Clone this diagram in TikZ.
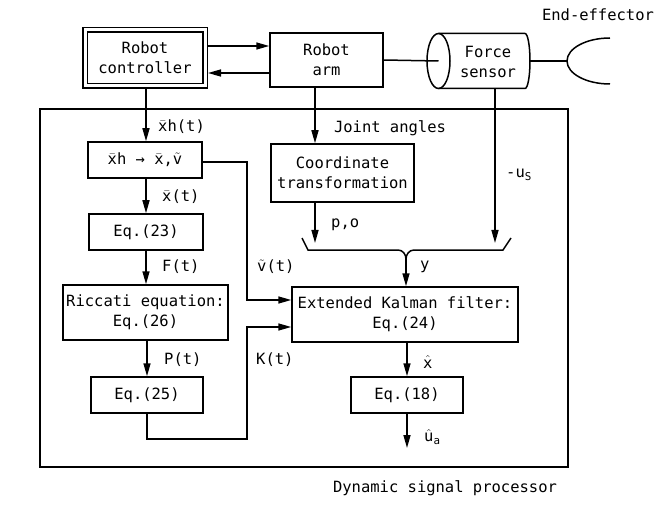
\documentclass[tikz,border=0pt]{standalone}
\usepackage{fontspec}
\setmainfont{DejaVu Sans Mono}
\usetikzlibrary{arrows.meta}
\newcommand\mxbar{$\bar{\hbox{x}}$}
\newcommand\mvtil{$\tilde{\hbox{v}}$}
\newcommand\mxhat{$\hat{\hbox{x}}$}
\newcommand\muhat{$\hat{\hbox{u}}$}
\begin{document}
\begin{tikzpicture}[x=1pt,y=-1pt,
  every node/.style={font=\fontsize{15.5}{20}\selectfont},
  box/.style={draw, line width=1.5pt, inner sep=0pt, align=center},
  lbl/.style={inner sep=0pt, anchor=west},
  arr/.style={-{Triangle[length=13pt,width=7pt]}, line width=1.5pt},
  ln/.style={line width=1.5pt}]
\useasboundingbox (0,0) rectangle (670,516);

% top row
\node[box, double, double distance=3pt, minimum width=120pt, minimum height=56pt, outer sep=3pt] (ctrl) at (145,58) {Robot\\controller};
\node[box, minimum width=113pt, minimum height=54pt] (arm) at (326.5,60) {Robot\\arm};

% force sensor cylinder
\coordinate (fsL) at (438.5,61);
\coordinate (fsR) at (530,61);
\draw[ln] (fsL) ellipse [x radius=11.5pt, y radius=27.5pt];
\draw[ln] (438.5,33.5) -- (525,33.5) arc [start angle=90, end angle=-90, x radius=5pt, y radius=27.5pt] -- (438.5,88.5);
\node (fs) at (488,62) [align=center] {Force\\sensor};
\coordinate (fsB) at (495,88.5);

% end-effector
\coordinate (ee) at (567,61);
\draw[ln] (610,38) arc [start angle=90, end angle=270, x radius=43pt, y radius=23pt];
\node (eelbl) at (598,15) {End-effector};

\draw[ln] (arm.east) -- (fsL);
\draw[ln] (fsR) -- (ee);

\draw[arr] ([yshift=12pt]ctrl.east) -- ([yshift=12pt]ctrl.east -| arm.west);
\draw[arr] ([yshift=-13pt]arm.west) -- ([yshift=-13pt]arm.west -| ctrl.east);

% dynamic signal processor
\node[box, minimum width=528pt, minimum height=358pt] (dsp) at (304,288) {};
\node (dsplbl) at (445,488) {Dynamic signal processor};

% left column
\node[box, minimum width=114pt, minimum height=36pt] (b1) at (145,160) {\mxbar h → \mxbar,\mvtil};
\node[box, minimum width=114pt, minimum height=36pt] (eq23) at (146,232) {Eq.(23)};
\node[box, minimum width=165pt, minimum height=55pt] (ric) at (145.5,312.5) {Riccati equation:\\Eq.(26)};
\node[box, minimum width=112pt, minimum height=36pt] (eq25) at (147,395) {Eq.(25)};

% right column
\node[box, minimum width=143pt, minimum height=58pt] (coord) at (342.5,173) {Coordinate\\transformation};
\node[box, minimum width=226pt, minimum height=55pt] (ekf) at (405,314.5) {Extended Kalman filter:\\Eq.(24)};
\node[box, minimum width=112pt, minimum height=36pt] (eq18) at (407,395) {Eq.(18)};

% left arrows
\draw[arr] (ctrl.south -| 146,0) -- (b1.north -| 146,0);
\node[lbl] (l1) at (158,127) {\mxbar h(t)};
\draw[arr] (b1.south -| 146,0) -- (eq23.north -| 146,0);
\node[lbl] (l2) at (162,197) {\mxbar(t)};
\draw[arr] (eq23.south -| 146,0) -- (ric.north -| 146,0);
\node[lbl] (l3) at (162,267) {F(t)};
\draw[arr] (ric.south -| 147,0) -- (eq25.north -| 147,0);
\node[lbl] (l4) at (164,360) {P(t)};

% feedback to EKF
\coordinate (vA) at (247,162);
\coordinate (vB) at (247,300);
\draw[arr] (b1.east |- vA) -- (vA) -- (vB) -- (vB -| ekf.west);
\node[lbl] (l5) at (257,267) {\mvtil(t)};
\coordinate (kA) at (147,439);
\coordinate (kB) at (247,439);
\coordinate (kC) at (247,327);
\draw[arr] (eq25.south) -- (kA) -- (kB) -- (kC) -- (kC -| ekf.west);
\node[lbl] (l6) at (256,360) {K(t)};

% right arrows
\draw[arr] (arm.south -| 315,0) -- (coord.north -| 315,0);
\node (ja) at (390,128) {Joint angles};
\coordinate (po) at (315,243);
\draw[arr] (coord.south -| 315,0) -- (po);
\node[lbl] (l7) at (331,225) {p,o};
\coordinate (us) at (495,243);
\draw[arr] (fsB) -- (us);
\node[lbl] (l8) at (506,175) {-u\textsubscript{S}};

% merge bracket
\coordinate (m0) at (406,259);
\draw[ln] (302,238) -- (308,250) -- (398,250) to[out=0,in=90] (m0);
\draw[ln] (511,238) -- (503,250) -- (414,250) to[out=180,in=90] (m0);
\draw[arr] (m0) -- (ekf.north -| m0);
\node[lbl] (l9) at (420,267) {y};

\draw[arr] (ekf.south -| 407,0) -- (eq18.north);
\node[lbl] (l10) at (423,362) {\mxhat};
\coordinate (ua) at (407,448);
\draw[arr] (eq18.south) -- (ua);
\node[lbl] (l11) at (424,437) {\muhat\textsubscript{a}};
\end{tikzpicture}
\end{document}
